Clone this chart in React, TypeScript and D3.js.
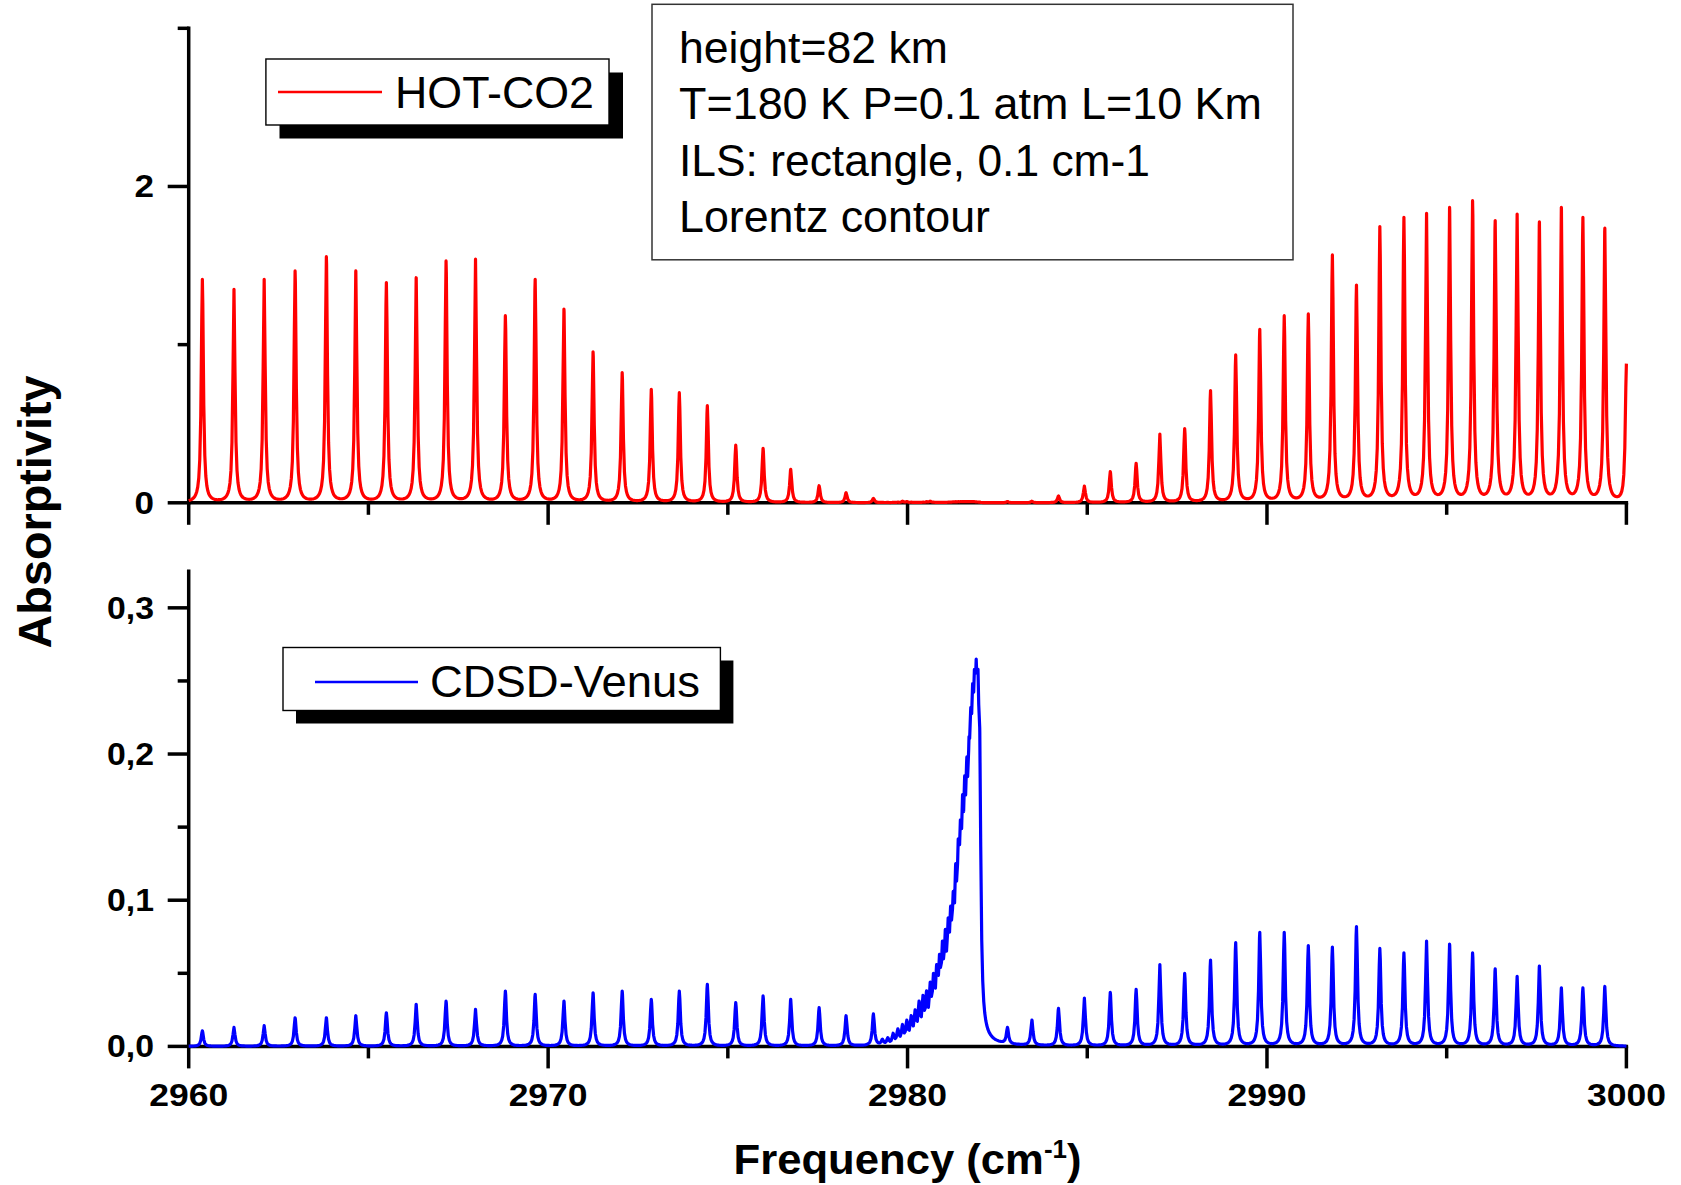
import React, { useMemo } from "react";
import * as d3 from "d3";

// ---- Frequency axis (cm-1) ----
const FREQ_RANGE: [number, number] = [2960, 3000];
const FREQ_MAJOR_TICKS = [2960, 2970, 2980, 2990, 3000];
const FREQ_MINOR_TICKS = [2965, 2975, 2985, 2995];

// ---- Absorptivity axes ----
const HOT_Y_MAX = 3;
const HOT_Y_MAJOR = [0, 2];
const HOT_Y_MINOR = [1, 3];
const CDSD_Y_MAX = 0.325;
const CDSD_Y_MAJOR = [0, 0.1, 0.2, 0.3];
const CDSD_Y_MINOR = [0.05, 0.15, 0.25];

// ---- Line list: P branch centres and peak absorptivity ----
const P_BRANCH_POS = [
  2960.38, 2961.26, 2962.1, 2962.96, 2963.83, 2964.65, 2965.5, 2966.33,
  2967.16, 2967.98, 2968.81, 2969.64, 2970.44, 2971.25, 2972.06, 2972.87,
  2973.65, 2974.43, 2975.22, 2975.98, 2976.75, 2977.54, 2978.29, 2979.05,
];
const P_BRANCH_HOT = [
  1.413, 1.35, 1.413, 1.466, 1.556, 1.466, 1.392, 1.423, 1.529, 1.54, 1.183,
  1.413, 1.225, 0.955, 0.823, 0.718, 0.696, 0.614, 0.365, 0.345, 0.212, 0.108,
  0.064, 0.028,
];
const P_BRANCH_CDSD = [
  0.0107, 0.013, 0.0142, 0.0196, 0.0196, 0.021, 0.023, 0.0288, 0.031, 0.0254,
  0.0379, 0.0356, 0.031, 0.0367, 0.0379, 0.0322, 0.0379, 0.0425, 0.0299,
  0.0345, 0.0322, 0.0265, 0.021, 0.0222,
];

// ---- Q branch (band head near 2982 cm-1) ----
const Q_BRANCH_POS = [
  2979.3, 2979.45, 2979.6, 2979.73, 2979.86, 2979.98, 2980.1, 2980.21, 2980.32,
  2980.43, 2980.53, 2980.63, 2980.72, 2980.81, 2980.89, 2980.97, 2981.05,
  2981.13, 2981.2, 2981.27, 2981.34, 2981.41, 2981.47, 2981.53, 2981.59,
  2981.65, 2981.71, 2981.76, 2981.81, 2981.86, 2981.91, 2981.96, 2982.01,
];
const Q_BRANCH_HOT = [
  0.003, 0.003, 0.003, 0.004, 0.01, 0.008, 0.004, 0.003, 0.003, 0.004, 0.007,
  0.01, 0.005, 0.003, 0.003, 0.003, 0.003, 0.004, 0.005, 0.006, 0.007, 0.007,
  0.007, 0.008, 0.008, 0.008, 0.008, 0.008, 0.008, 0.007, 0.006, 0.005, 0.004,
];
const Q_BRANCH_CDSD = [
  0.005, 0.006, 0.009, 0.012, 0.015, 0.018, 0.021, 0.025, 0.031, 0.035, 0.038,
  0.044, 0.05, 0.056, 0.063, 0.072, 0.08, 0.088, 0.096, 0.106, 0.125, 0.142,
  0.155, 0.172, 0.185, 0.198, 0.212, 0.232, 0.248, 0.258, 0.265, 0.258, 0.215,
];

// ---- R branch ----
const R_BRANCH_POS = [
  2982.78, 2983.46, 2984.2, 2984.92, 2985.64, 2986.36, 2987.02, 2987.71,
  2988.43, 2989.13, 2989.8, 2990.48, 2991.15, 2991.82, 2992.49, 2993.14,
  2993.81, 2994.44, 2995.08, 2995.72, 2996.35, 2996.96, 2997.58, 2998.19,
  2998.79, 2999.4, 3000.0,
];
const R_BRANCH_HOT = [
  0.008, 0.01, 0.043, 0.106, 0.197, 0.25, 0.435, 0.469, 0.709, 0.935, 1.097,
  1.183, 1.194, 1.567, 1.377, 1.746, 1.805, 1.83, 1.868, 1.91, 1.784, 1.826,
  1.776, 1.868, 1.805, 1.736, 0.88,
];
const R_BRANCH_CDSD = [
  0.013, 0.018, 0.026, 0.033, 0.037, 0.039, 0.056, 0.05, 0.059, 0.071, 0.078,
  0.078, 0.069, 0.068, 0.082, 0.067, 0.064, 0.072, 0.07, 0.064, 0.053, 0.048,
  0.055, 0.04, 0.04, 0.041, 0,
];

const INFO_LINES = [
  "height=82 km",
  "T=180 K P=0.1 atm L=10 Km",
  "ILS: rectangle, 0.1 cm-1",
  "Lorentz contour",
];
const INFO_LINE_WIDTHS = [269, 583, 471, 311];

// ---- Line shape ----
const LORENTZ_HWHM = 0.035;
const SAMPLE_STEP = 0.028;

type Pt = [number, number];

function lorentz(d: number): number {
  const g2 = LORENTZ_HWHM * LORENTZ_HWHM;
  return g2 / (d * d + g2);
}

// Line strengths chosen so that the summed contour reaches the listed peak
// value at each line centre (projected Gauss-Seidel).
function amplitudesFor(centres: number[], peaks: number[]): number[] {
  const a = peaks.slice();
  for (let it = 0; it < 300; it++) {
    for (let i = 0; i < centres.length; i++) {
      let s = 0;
      for (let j = 0; j < centres.length; j++) {
        if (j !== i) s += a[j] * lorentz(centres[i] - centres[j]);
      }
      a[i] = Math.max(0, peaks[i] - s);
    }
  }
  return a;
}

function spectrum(centres: number[], peaks: number[]): Pt[] {
  const lines = centres
    .map((c, i) => [c, peaks[i]] as Pt)
    .filter(([, p]) => p > 0);
  const cs = lines.map((d) => d[0]);
  const amps = amplitudesFor(cs, lines.map((d) => d[1]));
  const xs = Array.from(
    new Set(
      d3
        .range(FREQ_RANGE[0], FREQ_RANGE[1], SAMPLE_STEP)
        .concat(cs, [FREQ_RANGE[1]])
        .filter((x) => x >= FREQ_RANGE[0] && x <= FREQ_RANGE[1])
        .map((x) => Math.round(x * 10000) / 10000)
    )
  ).sort((p, q) => p - q);
  return xs.map((x) => [x, d3.sum(cs, (c, j) => amps[j] * lorentz(x - c))] as Pt);
}

const FONT = "'Liberation Sans', Arial, Helvetica, sans-serif";
const W = 1681;
const H = 1185;
const X0 = 188.7;
const X1 = 1626.4;
const AXIS_W = 3.5;
const TRACE_W = 3.2;

const commaFmt = d3
  .formatLocale({ decimal: ",", thousands: ".", grouping: [3], currency: ["", ""] })
  .format(".1f");

export default function App() {
  const x = d3.scaleLinear().domain(FREQ_RANGE).range([X0, X1]);
  const yHot = d3.scaleLinear().domain([0, HOT_Y_MAX]).range([502.8, 28.3]);
  const yCdsd = d3.scaleLinear().domain([0, CDSD_Y_MAX]).range([1046.4, 571.3]);

  const hotData = useMemo(
    () =>
      spectrum(
        [...P_BRANCH_POS, ...Q_BRANCH_POS, ...R_BRANCH_POS],
        [...P_BRANCH_HOT, ...Q_BRANCH_HOT, ...R_BRANCH_HOT]
      ),
    []
  );
  const cdsdData = useMemo(
    () =>
      spectrum(
        [...P_BRANCH_POS, ...Q_BRANCH_POS, ...R_BRANCH_POS],
        [...P_BRANCH_CDSD, ...Q_BRANCH_CDSD, ...R_BRANCH_CDSD]
      ),
    []
  );

  const hotLine = d3
    .line<Pt>()
    .x((d) => x(d[0]))
    .y((d) => yHot(d[1]))(hotData) as string;
  const cdsdLine = d3
    .line<Pt>()
    .x((d) => x(d[0]))
    .y((d) => yCdsd(d[1]))(cdsdData) as string;

  const yAxis = (
    y: d3.ScaleLinear<number, number>,
    major: number[],
    minor: number[],
    fmt: (v: number) => string,
    labelLen: number
  ) => (
    <g>
      <line x1={X0} x2={X0} y1={y.range()[1]} y2={y.range()[0]} stroke="#000" strokeWidth={AXIS_W} strokeLinecap="square" />
      {major.map((v) => (
        <g key={"M" + v}>
          <line x1={X0 - 21} x2={X0} y1={y(v)} y2={y(v)} stroke="#000" strokeWidth={AXIS_W} />
          <text
            x={154}
            y={y(v) + 11}
            textAnchor="end"
            fontFamily={FONT}
            fontWeight="bold"
            fontSize={31}
            textLength={labelLen}
            lengthAdjust="spacingAndGlyphs"
          >
            {fmt(v)}
          </text>
        </g>
      ))}
      {minor.map((v) => (
        <line key={"m" + v} x1={X0 - 11} x2={X0} y1={y(v)} y2={y(v)} stroke="#000" strokeWidth={AXIS_W} />
      ))}
    </g>
  );

  const xAxis = (yPos: number, labels: boolean) => (
    <g>
      <line x1={X0} x2={X1} y1={yPos} y2={yPos} stroke="#000" strokeWidth={AXIS_W} strokeLinecap="square" />
      {FREQ_MAJOR_TICKS.map((v) => (
        <g key={"M" + v}>
          <line x1={x(v)} x2={x(v)} y1={yPos} y2={yPos + 22} stroke="#000" strokeWidth={AXIS_W} />
          {labels && (
            <text
              x={x(v)}
              y={yPos + 60}
              textAnchor="middle"
              fontFamily={FONT}
              fontWeight="bold"
              fontSize={31}
              textLength={79}
              lengthAdjust="spacingAndGlyphs"
            >
              {String(v)}
            </text>
          )}
        </g>
      ))}
      {FREQ_MINOR_TICKS.map((v) => (
        <line key={"m" + v} x1={x(v)} x2={x(v)} y1={yPos} y2={yPos + 12} stroke="#000" strokeWidth={AXIS_W} />
      ))}
    </g>
  );

  return (
    <svg
      width={W}
      height={H}
      viewBox={`0 0 ${W} ${H}`}
      style={{ position: "absolute", left: 0, top: 0, background: "#fff", display: "block" }}
    >
      <rect x={0} y={0} width={W} height={H} fill="#fff" />

      {/* upper panel: HOT-CO2 */}
      {yAxis(yHot, HOT_Y_MAJOR, HOT_Y_MINOR, (v) => d3.format("d")(v), 19.5)}
      {xAxis(yHot(0), false)}
      <path d={hotLine} fill="none" stroke="#ff0000" strokeWidth={TRACE_W} strokeLinejoin="round" />

      {/* lower panel: CDSD-Venus */}
      {yAxis(yCdsd, CDSD_Y_MAJOR, CDSD_Y_MINOR, commaFmt, 47)}
      {xAxis(yCdsd(0), true)}
      <path d={cdsdLine} fill="none" stroke="#0000ff" strokeWidth={TRACE_W} strokeLinejoin="round" />

      {/* axis titles */}
      <text
        transform="translate(51,512) rotate(-90)"
        textAnchor="middle"
        fontFamily={FONT}
        fontWeight="bold"
        fontSize={46}
        textLength={273}
        lengthAdjust="spacingAndGlyphs"
      >
        Absorptivity
      </text>
      <text
        x={x(2980)}
        y={1174}
        textAnchor="middle"
        fontFamily={FONT}
        fontWeight="bold"
        fontSize={42}
        textLength={348}
        lengthAdjust="spacingAndGlyphs"
      >
        Frequency (cm
        <tspan dy={-16} fontSize={25}>-1</tspan>
        <tspan dy={16}>)</tspan>
      </text>

      {/* legend: HOT-CO2 */}
      <rect x={279.5} y={72.5} width={343.5} height={66} fill="#000" />
      <rect x={265.9} y={59} width={343.1} height={66} fill="#fff" stroke="#000" strokeWidth={1.4} />
      <line x1={278} x2={382} y1={92} y2={92} stroke="#ff0000" strokeWidth={2.7} />
      <text x={395} y={108} fontFamily={FONT} fontSize={44} textLength={199} lengthAdjust="spacingAndGlyphs">HOT-CO2</text>

      {/* legend: CDSD-Venus */}
      <rect x={296} y={660.5} width={437.4} height={63} fill="#000" />
      <rect x={283} y={647.5} width={437.4} height={63} fill="#fff" stroke="#000" strokeWidth={1.4} />
      <line x1={315} x2={418} y1={682} y2={682} stroke="#0000ff" strokeWidth={2.7} />
      <text x={430} y={697} fontFamily={FONT} fontSize={44} textLength={270} lengthAdjust="spacingAndGlyphs">CDSD-Venus</text>

      {/* calculation parameters */}
      <rect x={652} y={4.3} width={641} height={255.5} fill="none" stroke="#333" strokeWidth={1.5} />
      {INFO_LINES.map((s, i) => (
        <text
          key={s}
          x={679}
          y={62.7 + i * 56.5}
          fontFamily={FONT}
          fontSize={44}
          textLength={INFO_LINE_WIDTHS[i]}
          lengthAdjust="spacingAndGlyphs"
        >
          {s}
        </text>
      ))}
    </svg>
  );
}
